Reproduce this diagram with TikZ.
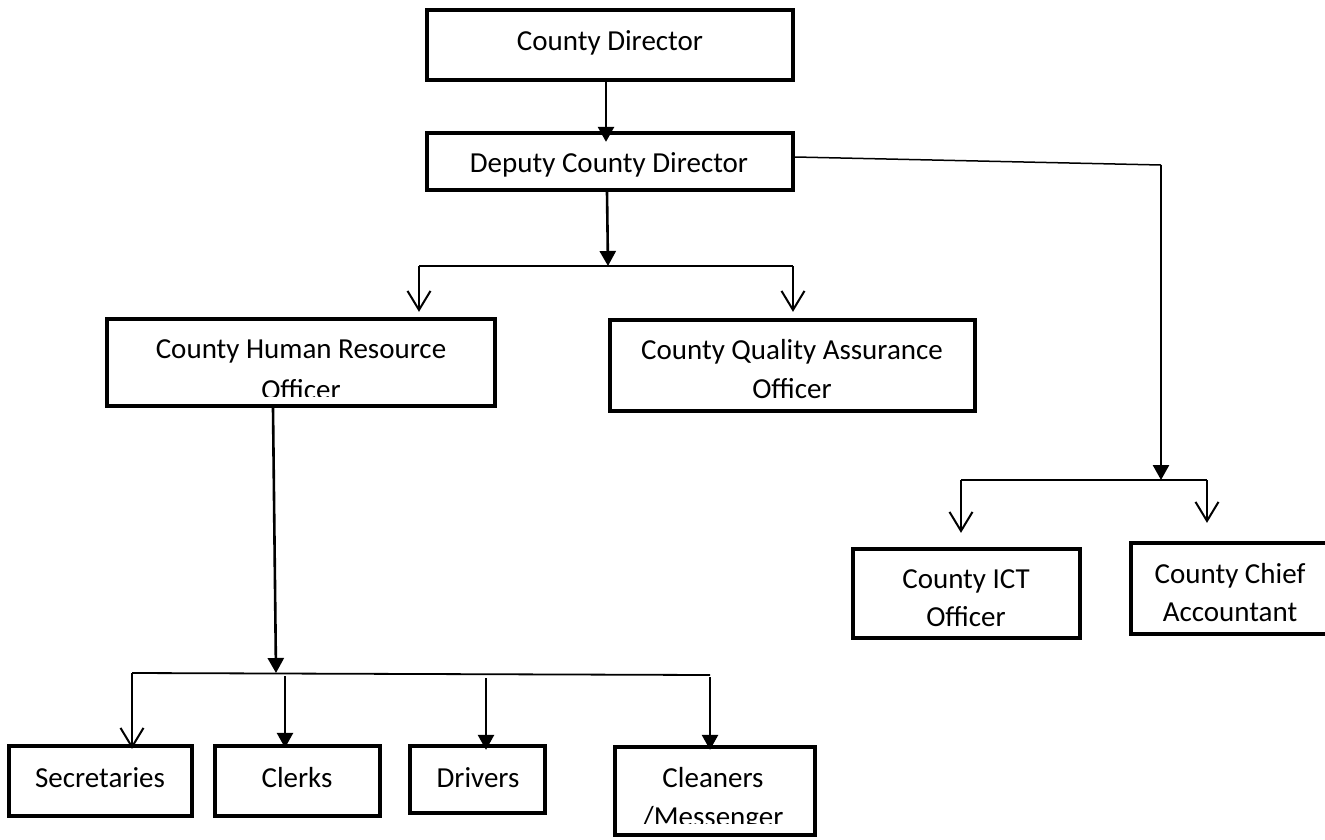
\documentclass[tikz,border=0pt]{standalone}
\usepackage{fontspec}
\setmainfont{Carlito}
\usetikzlibrary{arrows.meta}
\begin{document}
\begin{tikzpicture}[x=1pt,y=-1pt,
  box/.style={draw=black,line width=4.3pt,inner sep=0pt,rectangle},
  txt/.style={font=\fontsize{29}{35}\selectfont,inner sep=0pt,anchor=base},
  fillarr/.style={line width=2.6pt,-{Triangle[width=16pt,length=15pt]}},
  openarr/.style={line width=2pt,-{Straight Barb[width=23pt,length=19pt]}},
  bus/.style={line width=1.8pt},
  thinline/.style={line width=1.5pt},
]
\useasboundingbox (0,0) rectangle (1325,839);
\fill[white] (0,0) rectangle (1325,839);

% boxes
\node[box,minimum width=366pt,minimum height=70pt] (cd) at (610,45) {};
\node[box,minimum width=366pt,minimum height=57pt] (dep) at (610,161.5) {};
\node[box,minimum width=388pt,minimum height=87pt] (hr) at (301,362.5) {};
\node[box,minimum width=365pt,minimum height=91pt] (qa) at (792.5,365.5) {};
\node[box,minimum width=227pt,minimum height=89pt] (ict) at (966.5,593.5) {};
\node[box,minimum width=202pt,minimum height=91pt] (chief) at (1232,588.5) {};
\node[box,minimum width=183pt,minimum height=70pt] (sec) at (100.5,781) {};
\node[box,minimum width=165pt,minimum height=70pt] (clk) at (297.5,781) {};
\node[box,minimum width=135pt,minimum height=67pt] (drv) at (477.5,779.5) {};
\node[box,minimum width=200pt,minimum height=88pt] (cln) at (715,791) {};

% texts
\node[txt] (cdt) at (610,50) {County Director};
\node[txt] (dept) at (609,172) {Deputy County Director};
\node[txt] (hrt1) at (301,358) {County Human Resource};
\node[txt] (hrt2) at (301,399) {Officer};
\node[txt] (qat1) at (792,359) {County Quality Assurance};
\node[txt] (qat2) at (792,398) {Officer};
\node[txt] (ictt1) at (966,588) {County ICT};
\node[txt] (ictt2) at (966,626) {Officer};
\node[txt] (cht1) at (1230,583) {County Chief};
\node[txt] (cht2) at (1230,621) {Accountant};
\node[txt] (sect) at (100,787) {Secretaries};
\node[txt] (clkt) at (297,787) {Clerks};
\node[txt] (drvt) at (478,787) {Drivers};
\node[txt] (clnt1) at (713,787) {Cleaners};
\node[txt] (clnt2) at (713,826) {/Messenger};

% text cut off at the bottom of two boxes
\fill[white] ([xshift=5pt,yshift=4.5pt]hr.south west) rectangle ([xshift=-5pt,yshift=11pt]hr.south east);
\fill[white] ([xshift=5pt,yshift=4.5pt]cln.south west) rectangle ([xshift=-5pt,yshift=13pt]cln.south east);

% junction points
\coordinate (b1) at (608,266);
\coordinate (b1l) at (419,266);
\coordinate (b1r) at (793,266);
\coordinate (c1) at (1161,165);
\coordinate (b2) at (1161,480);
\coordinate (b2l) at (961,480);
\coordinate (b2r) at (1207,480);
\coordinate (b3) at (276,673);
\coordinate (b3l) at (132,673);
\coordinate (b3r) at (710,675);
\coordinate (k1) at (285,676);
\coordinate (k2) at (486,678);
\coordinate (k3) at (710,677);

% connectors
\draw[fillarr] ([xshift=-4pt]cd.south) -- ([xshift=-4pt,yshift=-11pt]dep.north);
\draw[fillarr] ([xshift=-3pt]dep.south) -- (b1);
\draw[bus] (b1l) -- (b1r);
\draw[openarr] (b1l) -- ([yshift=5pt]b1l |- hr.north);
\draw[openarr] (b1r) -- ([yshift=6pt]b1r |- qa.north);
\draw[thinline] ([yshift=4.5pt]dep.east) -- (c1);
\draw[fillarr] (c1) -- (b2);
\draw[bus] (b2l) -- (b2r);
\draw[openarr] (b2l) -- ([yshift=14pt]b2l |- ict.north);
\draw[openarr] (b2r) -- ([yshift=18pt]b2r |- chief.north);
\draw[fillarr] ([xshift=-28pt]hr.south) -- (b3);
\draw[bus] (b3l) -- (b3r);
\draw[openarr] (b3l) -- ([yshift=-5pt]b3l |- sec.north);
\draw[fillarr] (k1) -- ([xshift=-12.5pt,yshift=-4pt]clk.north);
\draw[fillarr] (k2) -- ([xshift=8.5pt,yshift=-6pt]drv.north);
\draw[fillarr] (k3) -- ([xshift=-5pt,yshift=-5pt]cln.north);
\end{tikzpicture}
\end{document}
